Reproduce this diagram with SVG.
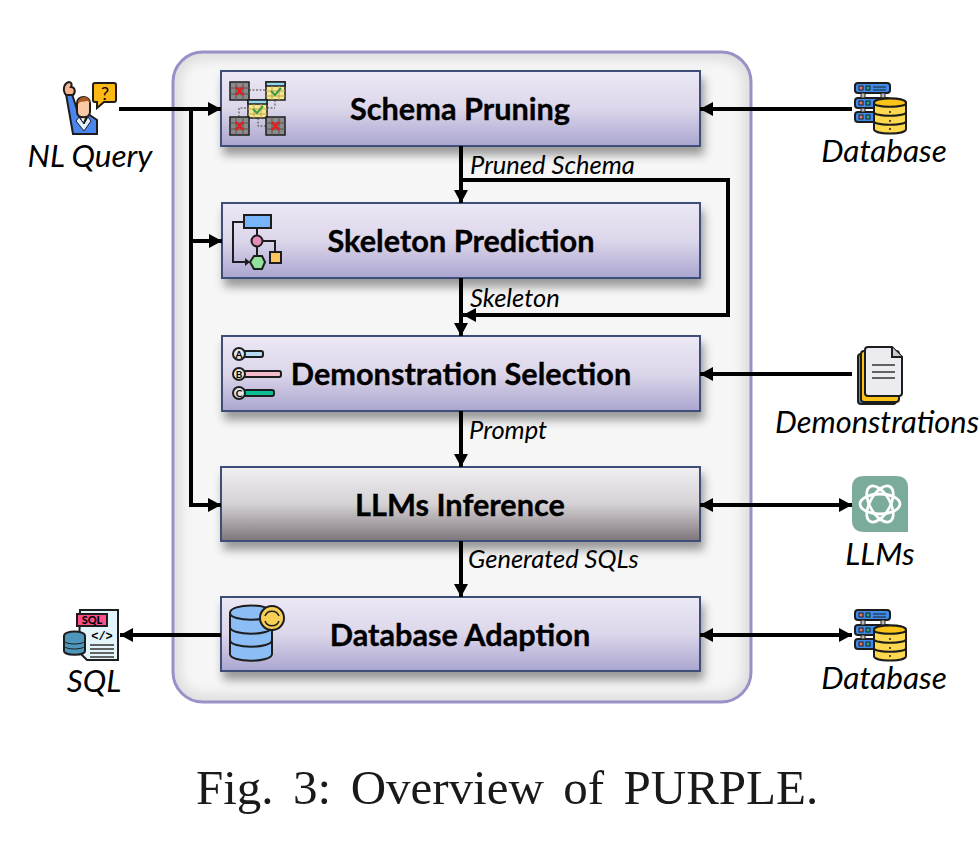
<svg xmlns="http://www.w3.org/2000/svg" xmlns:xlink="http://www.w3.org/1999/xlink" width="980" height="851" viewBox="0 0 980 851">
<style>
.box{stroke:#3c4f78;stroke-width:2;filter:url(#sh)}
.title{font:700 30.700px Lato,"Liberation Sans",sans-serif;fill:#000;text-anchor:middle;stroke:#000;stroke-width:.35}
.lab{font:italic 25.500px Lato,"Open Sans",sans-serif;fill:#000}
.out{font:italic 31.500px Lato,"Open Sans",sans-serif;fill:#000;text-anchor:middle}
.cap{font:49px "Liberation Serif",serif;fill:#1a1a1a;word-spacing:7.200px}
.c path{fill:none;stroke:#000;stroke-width:4}
.k{stroke:#1d1d1d;stroke-width:2}
.t{stroke:#1d1d1d;stroke-width:1.5}
</style>
<defs>
<linearGradient id="g1" x1="0" y1="0" x2="0" y2="1"><stop offset="0" stop-color="#ece8f5"/><stop offset=".5" stop-color="#dcd6ea"/><stop offset="1" stop-color="#aaa5cf"/></linearGradient>
<linearGradient id="g2" x1="0" y1="0" x2="0" y2="1"><stop offset="0" stop-color="#f1eff3"/><stop offset=".5" stop-color="#d5d1d5"/><stop offset="1" stop-color="#7d7579"/></linearGradient>
<filter id="sh" x="-5%" y="-20%" width="110%" height="160%"><feDropShadow dx="3" dy="8" stdDeviation="5" flood-color="#000" flood-opacity=".38"/></filter>
<filter id="bl" x="-5%" y="-5%" width="110%" height="110%"><feGaussianBlur stdDeviation="7"/></filter>
<clipPath id="pc"><rect x="173" y="52" width="578" height="650" rx="30"/></clipPath>
<marker id="a" markerUnits="userSpaceOnUse" markerWidth="14" markerHeight="14" refX="13" refY="7" orient="auto-start-reverse"><path d="M0 0L13 7L0 14z" fill="#000"/></marker>
<symbol id="db" width="54" height="54" viewBox="0 0 54 54" overflow="visible">
<g class="k" fill="#3f8ce8">
<rect x="1" y="1" width="35" height="10" rx="3"/><rect x="1" y="16" width="35" height="10" rx="3"/><rect x="1" y="30" width="35" height="10" rx="3"/>
</g>
<g fill="#bbb" stroke="#1d1d1d"><rect x="7" y="11" width="4" height="5"/><rect x="27" y="11" width="4" height="5"/><rect x="7" y="26" width="4" height="4"/></g>
<g stroke="#1d1d1d"><rect x="5" y="4" width="4" height="4" fill="#e57373"/><rect x="12" y="4" width="4" height="4" fill="#26a69a"/><rect x="5" y="19" width="4" height="4" fill="#e57373"/><rect x="12" y="19" width="4" height="4" fill="#26a69a"/><rect x="5" y="33" width="4" height="4" fill="#e57373"/><rect x="12" y="33" width="4" height="4" fill="#26a69a"/></g>
<path d="M19 5H32M19 8H32" stroke="#1d1d1d"/>
<path class="k" d="M20 21C20 15 52 15 52 21V47C52 53 20 53 20 47z" fill="#ffd84d"/>
<path d="M20 21C20 26 52 26 52 21C52 15 20 15 20 21z" fill="#fcc419" class="k"/>
<path class="k" fill="none" d="M20 30C20 35 52 35 52 30M20 39C20 44 52 44 52 39"/>
<path d="M36 30v.1M36 39v.1M36 47v.1" stroke="#1d1d1d" stroke-width="2" stroke-linecap="round"/>
</symbol>
<symbol id="tg" width="20" height="20" viewBox="0 0 20 20" overflow="visible"><rect x="0" y="0" width="19" height="18" fill="#8a8a8a" class="t"/><path d="M0 6H19M0 12H19M6 0V18M13 0V18" stroke="#555" fill="none"/><path d="M6 5L13 13M13 5L6 13" stroke="#e02020" stroke-width="2.5"/></symbol>
<symbol id="ty" width="20" height="20" viewBox="0 0 20 20" overflow="visible"><rect x="0" y="0" width="19" height="18" fill="#f8e58c" class="t"/><rect x="0" y="0" width="19" height="4" fill="#8fd6ee" class="t"/><path d="M0 9H19M0 14H19M6 4V18M13 4V18" stroke="#b9a955" fill="none"/><path d="M5 9L9 13L15 6" stroke="#3a9a4a" stroke-width="2" fill="none"/></symbol>
</defs>
<rect width="980" height="851" fill="#fff"/>

<g id="panel"><rect x="173" y="52" width="578" height="650" rx="30" fill="#f6f6f6"/>
<g clip-path="url(#pc)"><rect x="173" y="52" width="578" height="650" rx="30" fill="none" stroke="#000" stroke-opacity=".16" stroke-width="10" filter="url(#bl)"/></g>
<rect x="173" y="52" width="578" height="650" rx="30" fill="none" stroke="#9a90c8" stroke-width="3"/></g>

<g id="schema-pruning">
<rect class="box" x="221" y="71" width="479" height="75" fill="url(#g1)"/>
<text class="title" x="460" y="120">Schema Pruning</text>
<g><use href="#tg" x="230" y="82"/><use href="#ty" x="266" y="82"/><use href="#ty" x="248" y="100"/><use href="#tg" x="230" y="117"/><use href="#tg" x="266" y="117"/>
<path d="M249 90H266M275 100V106M267 108H275M239 117V108H248M258 118V126H266" stroke="#444" stroke-dasharray="2 1.5" fill="none"/></g>
</g>

<g id="skeleton-prediction">
<rect class="box" x="222" y="203" width="478" height="75" fill="url(#g1)"/>
<text class="title" x="461" y="252">Skeleton Prediction</text>
<g class="k"><path d="M257 229V258M257 241H275V252M244 222H233V262H246" fill="none"/>
<rect x="244" y="215" width="27" height="13" fill="#78b4f8"/><circle cx="257" cy="241" r="5.500" fill="#e88cb8"/><rect x="270" y="252" width="11" height="11" fill="#fdc55f"/><path d="M250 262L254 256H262L265 262L262 269H254z" fill="#8fe39a"/></g>
<path d="M245 258L250 262L245 266z" fill="#1d1d1d"/>
</g>

<g id="demonstration-selection">
<rect class="box" x="222" y="336" width="478" height="75" fill="url(#g1)"/>
<text class="title" x="461" y="385">Demonstration Selection</text>
<g class="k"><rect x="244" y="351" width="19" height="6" rx="2" fill="#b5daf2"/><rect x="244" y="371" width="37" height="6" rx="2" fill="#f6bccb"/><rect x="244" y="390" width="30" height="6" rx="2" fill="#0bbd92"/>
<g fill="#e5e5e5"><circle cx="239" cy="354" r="6"/><circle cx="239" cy="374" r="6"/><circle cx="239" cy="393" r="6"/></g></g>
<g font-family="Lato,sans-serif" font-size="10" font-weight="700" text-anchor="middle"><text x="239" y="358">A</text><text x="239" y="378">B</text><text x="239" y="397">C</text></g>
</g>

<g id="llms-inference">
<rect class="box" x="221" y="467" width="479" height="74" fill="url(#g2)"/>
<text class="title" x="460" y="516">LLMs Inference</text>
</g>

<g id="database-adaption">
<rect class="box" x="221" y="597" width="479" height="74" fill="url(#g1)"/>
<text class="title" x="460" y="646">Database Adaption</text>
<g class="k"><path d="M230 613C230 603 272 603 272 613V654C272 663 230 663 230 654z" fill="#8dbdf5"/><path class="k" fill="none" d="M230 613C230 622 272 622 272 613M230 627C230 636 272 636 272 627M230 640C230 649 272 649 272 640"/>
<circle cx="272" cy="618" r="12" fill="#f7cf55"/><path d="M265 616A7.500 7.500 0 0 1 279 616M279 621A7.500 7.500 0 0 1 265 621" fill="none" stroke-width="1.500"/></g>
</g>

<g class="c" id="connectors">
<path d="M119 109H221" marker-end="url(#a)"/>
<path d="M191 109V505H221" marker-end="url(#a)"/>
<path d="M191 241H222" marker-end="url(#a)"/>
<path d="M461 146V203" marker-end="url(#a)"/>
<path d="M461 180H728V315H463" marker-end="url(#a)"/>
<path d="M461 278V336" marker-end="url(#a)"/>
<path d="M461 411V467" marker-end="url(#a)"/>
<path d="M461 541V597" marker-end="url(#a)"/>
<path d="M852 109H700" marker-end="url(#a)"/>
<path d="M852 374H700" marker-end="url(#a)"/>
<path d="M700 505H852" marker-start="url(#a)" marker-end="url(#a)"/>
<path d="M700 635H852" marker-start="url(#a)" marker-end="url(#a)"/>
<path d="M221 635H120" marker-end="url(#a)"/>
</g>

<g id="edge-labels">
<text class="lab" x="470" y="174">Pruned Schema</text>
<text class="lab" x="470" y="307">Skeleton</text>
<text class="lab" x="469" y="439">Prompt</text>
<text class="lab" x="468" y="568">Generated SQLs</text>
</g>

<g id="nl-query">
<g class="k"><path d="M66 94L73 134H97V120L88 114L83 125L79 116L72 94z" fill="#4a86ec"/>
<path d="M66 95C62 90 64 83 69 82C72 82 72 85 71 87C75 87 76 92 73 95z" fill="#f6b48f"/>
<path d="M77 103C77 95 90 95 90 103V112C90 119 77 119 77 112z" fill="#f9c9a5"/>
<path d="M95 83H114Q116 83 116 85V100Q116 102 114 102H104L97 108V102H95Q93 102 93 100V85Q93 83 95 83z" fill="#fcb913"/></g>
<path d="M78 104C77 95 90 95 90 103L88 101L80 102z" fill="#a85a22"/>
<path d="M79 117L84 124L88 117L91 121L84 131L76 121z" fill="#dff0fa" stroke="#1d1d1d"/>
<text x="105" y="100" text-anchor="middle" font-family="Lato,sans-serif" font-size="18" font-weight="400">?</text>
<text class="out" x="90" y="167">NL Query</text>
</g>

<g id="database-top"><use href="#db" x="854" y="82"/><text class="out" x="884" y="162">Database</text></g>

<g id="demonstrations">
<g class="k"><rect x="858" y="354" width="38" height="50" rx="3" fill="#4a90e2"/><rect x="861" y="351" width="38" height="51" rx="3" fill="#fcc419"/><path d="M868 347H892L902 357V393C902 395 901 396 899 396H868C866 396 865 395 865 393V350Q865 347 868 347z" fill="#ececf0"/><path d="M892 347V357H902" fill="#c9c9cf"/></g>
<path d="M872 365H895M872 372H895M872 378H895" stroke="#333" stroke-width="1.500"/>
<text class="out" x="877" y="433" style="font-size:30.800px">Demonstrations</text>
</g>

<g id="llms">
<path d="M864 476H896Q908 476 908 488V532H864Q852 532 852 520V488Q852 476 864 476z" fill="#7aab9b"/>
<g fill="none" stroke="#fff" stroke-width="2.800"><ellipse cx="880" cy="504" rx="20" ry="10"/><ellipse cx="880" cy="504" rx="20" ry="10" transform="rotate(60 880 504)"/><ellipse cx="880" cy="504" rx="20" ry="10" transform="rotate(120 880 504)"/></g>
<circle cx="880" cy="504" r="6" fill="#7aab9b"/>
<text class="out" x="880" y="565">LLMs</text>
</g>

<g id="database-bottom"><use href="#db" x="854" y="609"/><text class="out" x="884" y="689">Database</text></g>

<g id="sql">
<g class="k"><path d="M80 610H118V660H87L79 652z" fill="#e3f4fb"/><rect x="77" y="614" width="30" height="12" fill="#ff4f8b"/>
<path d="M64 636C64 630 85 630 85 636V651C85 656 64 656 64 651z" fill="#4d97bd"/></g>
<path d="M64 641C66 645 83 645 85 641M64 646C66 650 83 650 85 646" stroke="#1d1d1d" fill="none"/>
<path d="M90 645H114M90 649H114M90 653H114M90 657H114" stroke="#333" stroke-width="1.500"/>
<text x="92" y="624" text-anchor="middle" font-family="Lato,sans-serif" font-size="11" font-weight="900">SQL</text>
<text x="102" y="640" text-anchor="middle" font-family="Liberation Mono,monospace" font-size="12" font-weight="700">&lt;/&gt;</text>
<text class="out" x="94" y="692">SQL</text>
</g>

<g id="caption"><text class="cap" x="196" y="804">Fig. 3: Overview of PURPLE.</text></g>
</svg>
